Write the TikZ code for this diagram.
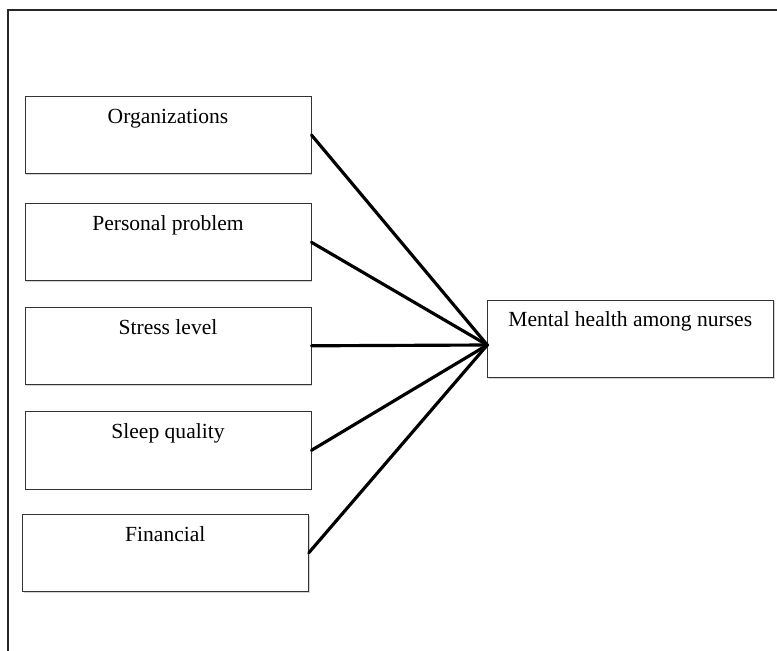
\documentclass[tikz,border=0pt]{standalone}
\usepackage{fontspec}
\setmainfont{Liberation Serif}
\usetikzlibrary{shadows}

\begin{document}
\begin{tikzpicture}[x=0.03cm,y=-0.03cm,
	factor/.style={draw=black!80,line width=0.8pt,fill=white,inner sep=0pt,
		minimum width=8.58cm,minimum height=2.32cm,
		text height=23pt,text depth=43pt,
		font=\fontsize{18.4}{22}\selectfont,
		drop shadow={shadow xshift=1.2pt,shadow yshift=-1.2pt,opacity=0.35}},
	link/.style={line width=2.7pt,line cap=round}]
	\useasboundingbox (0,0) rectangle (777,651);
	\draw[line width=1pt,black!85] (8,651) |- (777,10);
		\node[factor] (org) at (168,135) {Organizations};
		\node[factor] (pers) at (168,242.3) {Personal problem};
		\node[factor] (stress) at (168,345.8) {Stress level};
		\node[factor] (sleep) at (168,450.3) {Sleep quality};
		\node[factor] (fin) at (165.3,552.8) {Financial};
		\node[factor] (mh) at (630.3,338.7) {Mental health among nurses};
	\coordinate (hub) at (487.3,345);
		\foreach \n in {org,pers,stress,sleep,fin}
			\draw[link] (\n.east) -- (hub);
\end{tikzpicture}
\end{document}
